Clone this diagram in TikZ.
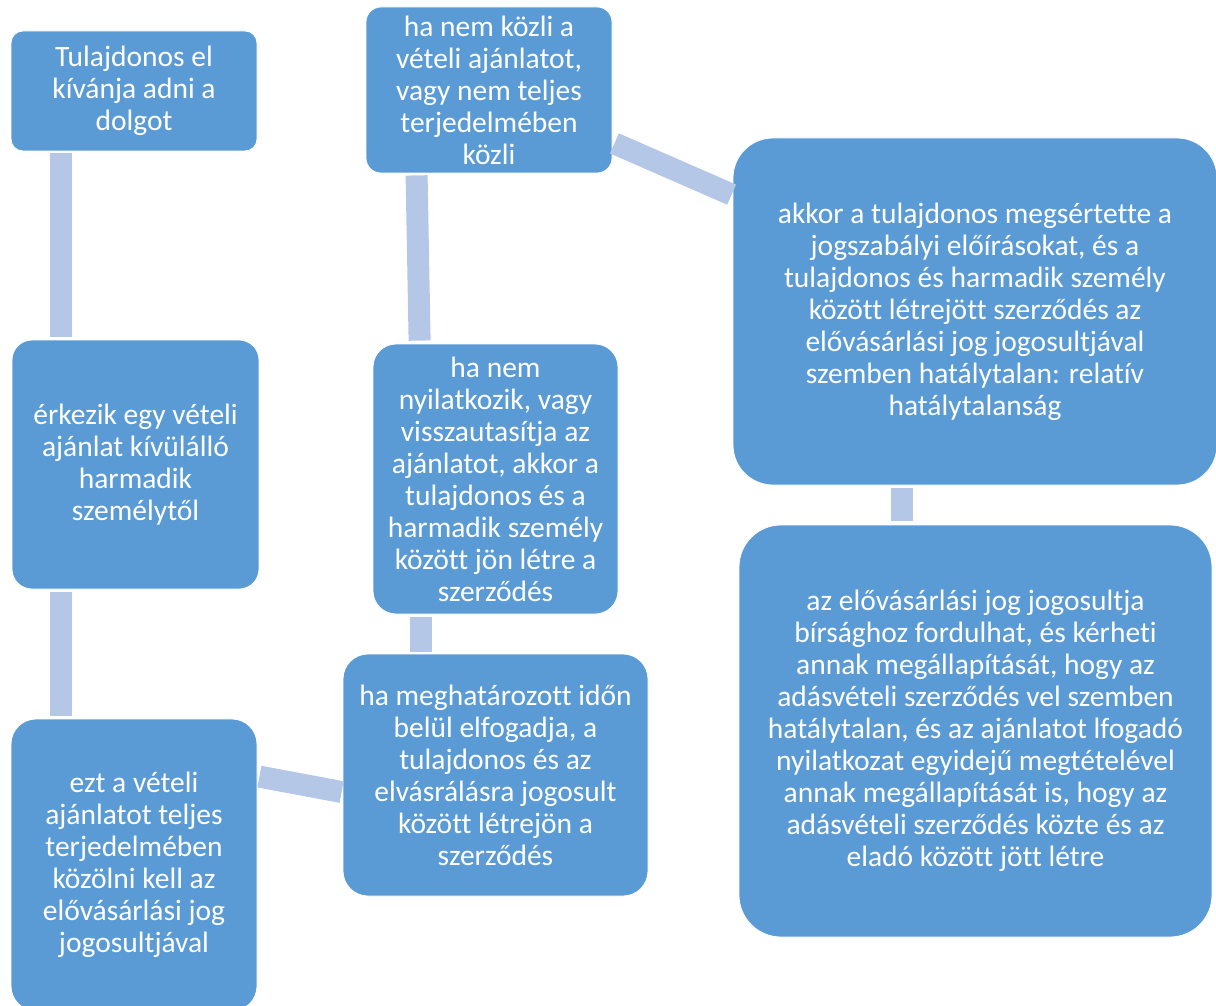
\documentclass[tikz,border=0pt]{standalone}
\usepackage{fontspec}
\setmainfont{Carlito}[Ligatures={NoCommon}]
\definecolor{boxblue}{HTML}{5B9BD5}
\definecolor{connblue}{HTML}{B4C7E7}
\tikzset{
  card/.style={rectangle, fill=boxblue, draw=white, line width=0.8pt, inner sep=0pt,
    text=white, align=center, font=\fontsize{29.5}{32}\selectfont},
  conn/.style={draw=connblue, line width=22pt, line cap=butt}
}
\begin{document}
\begin{tikzpicture}[x=1pt,y=-1pt]
\useasboundingbox (0,0) rectangle (1216,1006);
\clip (0,0) rectangle (1216,1006);
% boxes
\node[card, minimum width=246pt, minimum height=120pt, rounded corners=12pt] (A) at (134,91)
  {Tulajdonos el\\kívánja adni a\\dolgot};
\node[card, minimum width=247pt, minimum height=249pt, rounded corners=20pt] (B) at (135.5,464.5)
  {érkezik egy vételi\\ajánlat kívülálló\\harmadik\\személytől};
\node[card, minimum width=246pt, minimum height=292pt, rounded corners=25pt] (C) at (134,865)
  {ezt a vételi\\ajánlatot teljes\\terjedelmében\\közölni kell az\\elővásárlási jog\\jogosultjával};
\node[card, minimum width=305pt, minimum height=242pt, rounded corners=25pt] (D) at (495.5,775)
  {ha meghatározott időn\\belül elfogadja, a\\tulajdonos és az\\elvásrálásra jogosult\\között létrejön a\\szerződés};
\node[card, minimum width=245pt, minimum height=270pt, rounded corners=23pt] (E) at (495.5,479)
  {ha nem\\nyilatkozik, vagy\\visszautasítja az\\ajánlatot, akkor a\\tulajdonos és a\\harmadik személy\\között jön létre a\\szerződés};
\node[card, minimum width=246pt, minimum height=166pt, rounded corners=15pt] (F) at (489,90)
  {ha nem közli a\\vételi ajánlatot,\\vagy nem teljes\\terjedelmében\\közli};
\node[card, minimum width=484pt, minimum height=347pt, rounded corners=40pt] (G) at (975,311.5)
  {akkor a tulajdonos megsértette a\\jogszabályi előírásokat, és a\\tulajdonos és harmadik személy\\között létrejött szerződés az\\elővásárlási jog jogosultjával\\szemben hatálytalan: relatív\\hatálytalanság};
\node[card, minimum width=473pt, minimum height=412pt, rounded corners=42pt] (H) at (975.5,731)
  {az elővásárlási jog jogosultja\\bírsághoz fordulhat, és kérheti\\annak megállapítását, hogy az\\adásvételi szerződés vel szemben\\hatálytalan, és az ajánlatot lfogadó\\nyilatkozat egyidejű megtételével\\annak megállapítását is, hogy az\\adásvételi szerződés közte és az\\eladó között jött létre};
% connectors
\draw[conn] ([xshift=50pt,yshift=-2pt]A.south west) -- ([xshift=49pt,yshift=3pt]B.north west);
\draw[conn] ([xshift=49pt,yshift=-3pt]B.south west) -- ([xshift=50pt,yshift=3pt]C.north west);
\draw[conn] ([xshift=2pt,yshift=-58pt]C.north east) -- ([xshift=-1pt,yshift=-17pt]D.west);
\draw[conn] ([xshift=48.5pt,yshift=-3pt]E.south west) -- ([xshift=78.5pt,yshift=2pt]D.north west);
\draw[conn] ([xshift=51pt,yshift=-2pt]F.south west) -- ([xshift=47pt,yshift=3pt]E.north west);
\draw[conn] ([xshift=2pt,yshift=30pt]F.south east) -- ([xshift=-1pt,yshift=-57pt]G.north west);
\draw[conn] ([xshift=-73.5pt,yshift=-3pt]G.south) -- ([xshift=-74pt,yshift=4pt]H.north);
\end{tikzpicture}
\end{document}
